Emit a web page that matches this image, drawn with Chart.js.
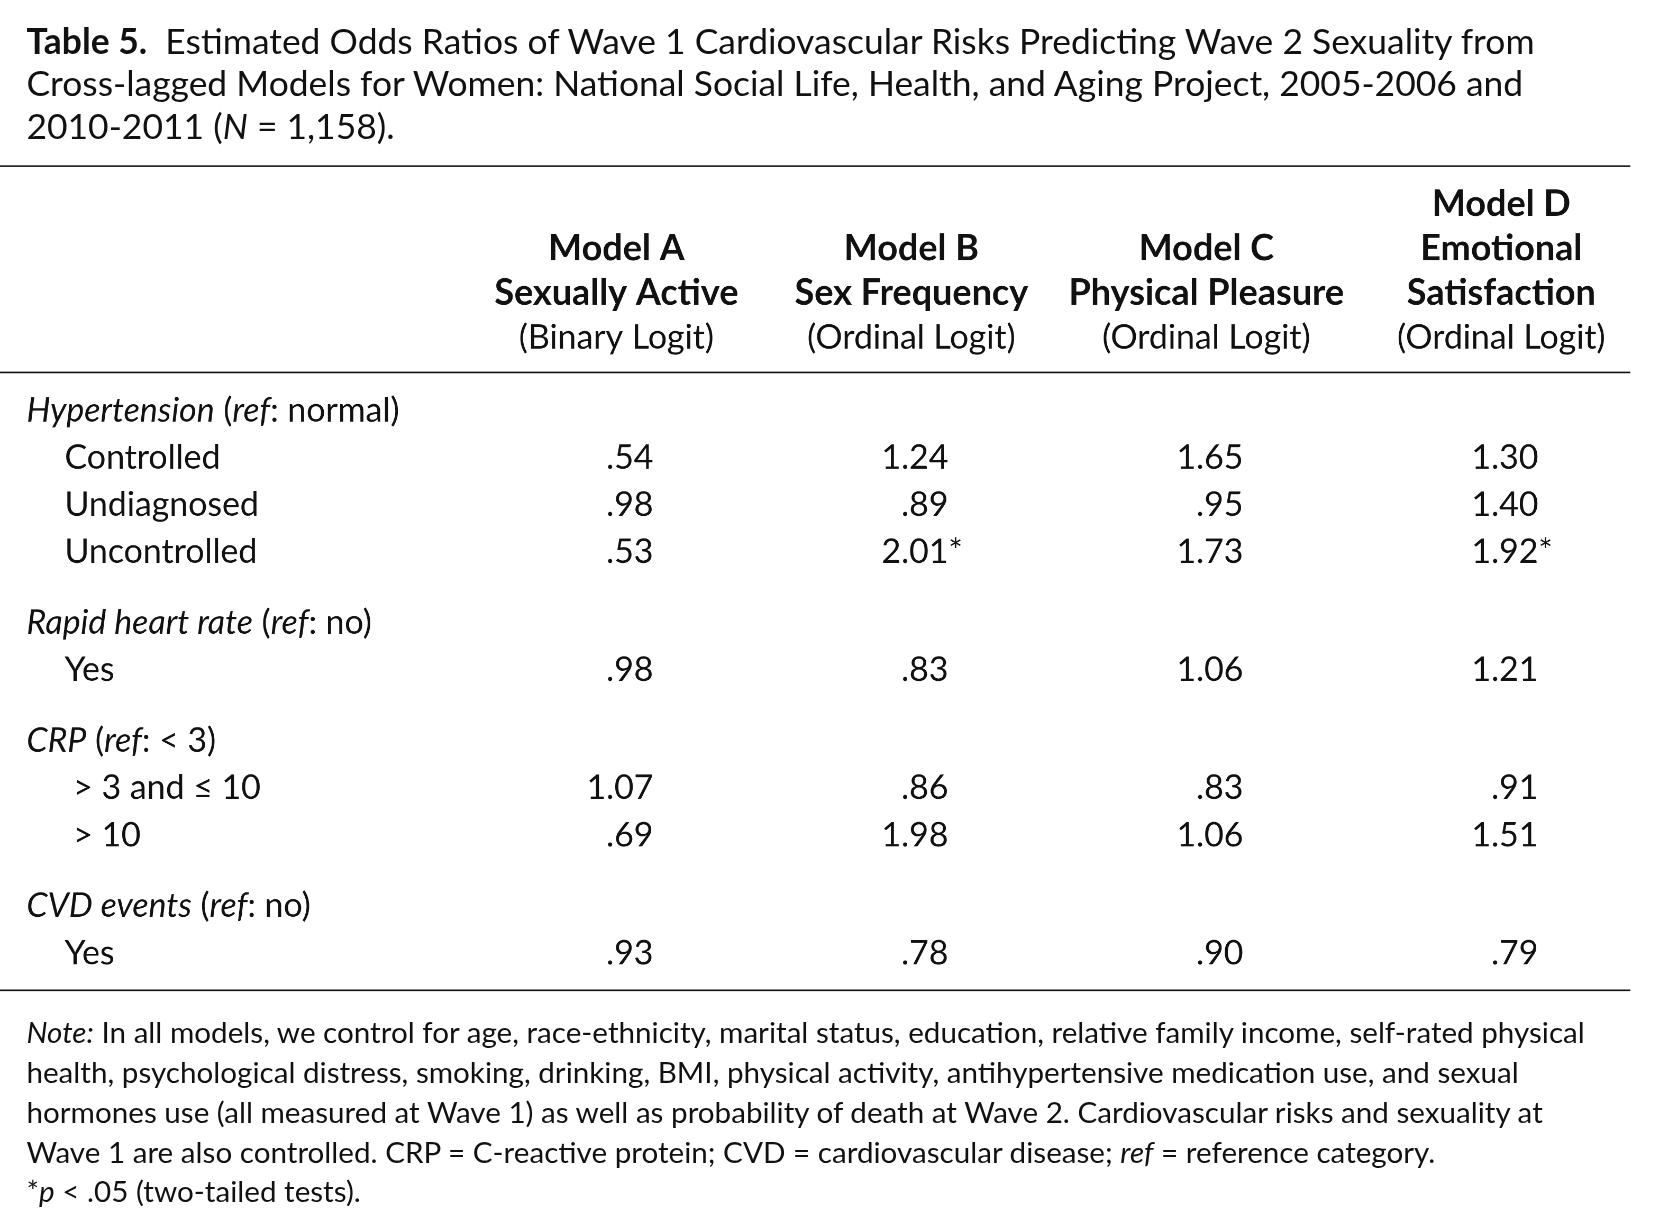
<!DOCTYPE html>
<html>
<head>
<meta charset="utf-8">
<script src="https://cdn.jsdelivr.net/npm/chart.js@4"></script>
<style>
  body { margin: 0; background: #fff; font-family: Lato, "Open Sans", sans-serif; color: #111; }
  #page { position: absolute; left: 0; top: 0; width: 1560px; height: 1160px; transform: scale(1.058); transform-origin: 0 0; }
  #title { position: absolute; left: 25px; top: 18px; font-size: 33.5px; line-height: 40px; }
  #note { position: absolute; left: 25px; top: 957px; font-size: 28px; line-height: 37.5px; }
  #wrap { position: absolute; left: 0; top: 150px; }
</style>
</head>
<body>
<div id="page">
<div id="title"><b>Table 5.</b>&nbsp; Estimated Odds Ratios of Wave 1 Cardiovascular Risks Predicting Wave 2 Sexuality from<br>Cross-lagged Models for Women: National Social Life, Health, and Aging Project, 2005-2006 and<br>2010-2011 (<i>N</i> = 1,158).</div>
<div id="wrap"><canvas id="tbl" width="1545" height="800"></canvas></div>
<div id="note"><i>Note:</i> In all models, we control for age, race-ethnicity, marital status, education, relative family income, self-rated physical<br>health, psychological distress, smoking, drinking, BMI, physical activity, antihypertensive medication use, and sexual<br>hormones use (all measured at Wave 1) as well as probability of death at Wave 2. Cardiovascular risks and sexuality at<br>Wave 1 are also controlled. CRP = C-reactive protein; CVD = cardiovascular disease; <i>ref</i> = reference category.<br>*<i>p</i> &lt; .05 (two-tailed tests).</div>
</div>
<script>
// Column headers
const models = ["Model A", "Model B", "Model C", "Model D"];
const headers = [
  ["", "Model A", "Sexually Active", "(Binary Logit)"],
  ["", "Model B", "Sex Frequency", "(Ordinal Logit)"],
  ["", "Model C", "Physical Pleasure", "(Ordinal Logit)"],
  ["Model D", "Emotional", "Satisfaction", "(Ordinal Logit)"]
];
// Row groups: [italic name, ref text, items]
const groups = [
  ["Hypertension", "normal", ["Controlled", "Undiagnosed", "Uncontrolled"]],
  ["Rapid heart rate", "no", ["Yes"]],
  ["CRP", "< 3", [" > 3 and \u2264 10", " > 10"]],
  ["CVD events", "no", ["Yes"]]
];
// Odds ratios, row order as above
const modelA = [".54", ".98", ".53", ".98", "1.07", ".69", ".93"];
const modelB = ["1.24", ".89", "2.01*", ".83", ".86", "1.98", ".78"];
const modelC = ["1.65", ".95", "1.73", "1.06", ".83", "1.06", ".90"];
const modelD = ["1.30", "1.40", "1.92*", "1.21", ".91", "1.51", ".79"];
const values = [modelA, modelB, modelC, modelD];

// build row slots for the y category scale
const slots = [];
const groupSlots = [];
const itemSlots = [];
let s = 0;
groups.forEach((g, gi) => {
  if (gi > 0) s += 3;
  groupSlots.push(s);
  g[2].forEach(it => { s += 2; itemSlots.push([s, it]); });
  s -= 0;
});
for (let i = 0; i <= s; i++) slots.push("r" + i);

const xLabels = ["stub", "gap", ...models];
const datasets = values.map((col, ci) => ({
  label: models[ci],
  data: col.map((v, ri) => ({ x: models[ci], y: slots[itemSlots[ri][0]], txt: v })),
  pointRadius: 0
}));
datasets.push({
  label: "stub",
  data: groupSlots.map((sl, gi) => ({ x: "stub", y: slots[sl], grp: gi }))
    .concat(itemSlots.map(([sl, it]) => ({ x: "stub", y: slots[sl], item: it }))),
  pointRadius: 0
});

const FONT = "Lato, 'Open Sans', sans-serif";
const tablePlugin = {
  id: "tablePlugin",
  afterDatasetsDraw(chart) {
    const ctx = chart.ctx;
    const xs = chart.scales.x;
    const W = chart.width;
    ctx.save();
    ctx.fillStyle = "#111";
    ctx.strokeStyle = "#111";
    ctx.lineWidth = 1.6;
    const top = chart.chartArea.top;
    [top - 231, top - 36, chart.chartArea.bottom + 35].forEach(y => {
      ctx.beginPath(); ctx.moveTo(0, y); ctx.lineTo(W - 4, y); ctx.stroke();
    });
    // header
    ctx.textAlign = "center";
    ctx.textBaseline = "middle";
    headers.forEach((h, ci) => {
      const cx = xs.getPixelForValue(xs.getLabels().indexOf(models[ci]));
      h.forEach((line, li) => {
        ctx.font = li < 3 ? "bold 34px " + FONT : "32px " + FONT;
        ctx.fillText(line, cx, top - 195 + li * 42);
      });
    });
    chart.data.datasets.forEach((ds, di) => {
      const meta = chart.getDatasetMeta(di);
      meta.data.forEach((pt, pi) => {
        const d = ds.data[pi];
        if (ds.label === "stub") {
          ctx.textAlign = "left";
          if (d.grp !== undefined) {
            const g = groups[d.grp];
            let x = pt.x;
            const parts = [[g[0], true], [" (", false], ["ref", true], [": " + g[1] + ")", false]];
            parts.forEach(([t, it]) => {
              ctx.font = (it ? "italic " : "") + "32px " + FONT;
              ctx.fillText(t, x, pt.y);
              x += ctx.measureText(t).width;
            });
          } else {
            ctx.font = "32px " + FONT;
            ctx.fillText(d.item, pt.x + 36, pt.y);
          }
        } else {
          ctx.font = "32px " + FONT;
          const star = d.txt.endsWith("*");
          const num = star ? d.txt.slice(0, -1) : d.txt;
          ctx.textAlign = "right";
          ctx.fillText(num, pt.x + 35, pt.y);
          if (star) { ctx.textAlign = "left"; ctx.fillText("*", pt.x + 35, pt.y); }
        }
      });
    });
    ctx.restore();
  }
};

new Chart(document.getElementById("tbl"), {
  type: "scatter",
  data: { datasets },
  options: {
    responsive: false,
    animation: false,
    devicePixelRatio: 2,
    events: [],
    layout: { padding: { left: 25, right: 126, top: 238, bottom: 49 } },
    plugins: { legend: { display: false }, tooltip: { enabled: false } },
    scales: {
      x: { type: "category", labels: xLabels, offset: false, display: false },
      y: { type: "category", labels: slots, offset: false, display: false }
    }
  },
  plugins: [tablePlugin]
});
</script>
</body>
</html>
